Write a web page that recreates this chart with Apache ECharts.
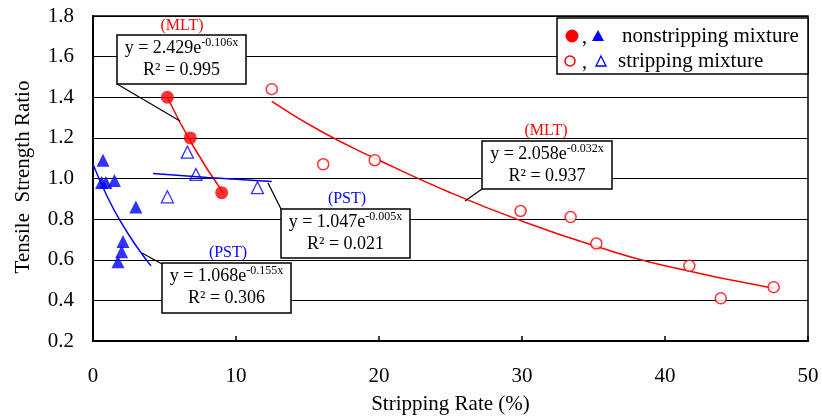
<!DOCTYPE html>
<html>
<head>
<meta charset="utf-8">
<script src="https://cdn.jsdelivr.net/npm/echarts@6/dist/echarts.min.js"></script>
<style>
  html, body { margin: 0; padding: 0; background: #fff; }
  #chart { width: 822px; height: 420px; }
</style>
</head>
<body>
<div id="chart"></div>
<script>
// 测点数据 (x = stripping rate %, y = tensile strength ratio)
var mltNonStrip = [[5.2, 1.40], [6.8, 1.20], [9.0, 0.93]];
var pstNonStrip = [[0.7, 1.09], [0.6, 0.98], [0.9, 0.98], [1.5, 0.99], [3.0, 0.86], [2.1, 0.69], [2.0, 0.64], [1.75, 0.59]];
var mltStrip = [[12.5, 1.44], [16.1, 1.07], [19.7, 1.09], [29.9, 0.84], [33.4, 0.81], [35.2, 0.68], [41.7, 0.57], [43.9, 0.41], [47.6, 0.465]];
var pstStrip = [[6.6, 1.13], [7.2, 1.02], [5.2, 0.91], [11.5, 0.955]];

// 趋势线
var mltNonStripTrend = [[5.2, 1.40], [7.0, 1.16], [9.1, 0.93]];
var pstNonStripTrend = [[0, 1.07], [1, 0.91], [2, 0.78], [3, 0.67], [4.05, 0.57]];
var mltStripTrend = [[12.5, 1.38], [16, 1.23], [20, 1.09], [25, 0.93], [30, 0.79], [35, 0.67], [40, 0.57], [47.6, 0.46]];
var pstStripTrend = [[4.2, 1.025], [8, 1.005], [12.5, 0.985]];

var xTicks = [0, 10, 20, 30, 40, 50];
var yTicks = [0.2, 0.4, 0.6, 0.8, 1.0, 1.2, 1.4, 1.6, 1.8];

var FONT = '"Liberation Serif", "Times New Roman", serif';
var RED = '#ff0000', BLUE = '#0000ff';

var chart = echarts.init(document.getElementById('chart'));

function eqBox (x, y, w, h, coef, expo, r2) {
  return [
    { type: 'rect', shape: { x: x, y: y, width: w, height: h }, style: { fill: '#fff', stroke: '#000', lineWidth: 1.5 }, z: 10 },
    {
      type: 'text', x: x + w / 2, y: y + 2, z: 11,
      style: {
        text: '{a|y = ' + coef + 'e}{s|' + expo + '}\n{a|R² = ' + r2 + '}',
        align: 'center', verticalAlign: 'top',
        rich: {
          a: { fontFamily: FONT, fontSize: 18, lineHeight: 22, fill: '#000' },
          s: { fontFamily: FONT, fontSize: 12, lineHeight: 15, verticalAlign: 'top', fill: '#000' }
        }
      }
    }
  ];
}
function tag (x, y, txt, color) {
  return { type: 'text', x: x, y: y, z: 11, style: { text: txt, fontFamily: FONT, fontSize: 16, fill: color, align: 'center', verticalAlign: 'middle' } };
}
function leader (x1, y1, x2, y2) {
  return { type: 'line', shape: { x1: x1, y1: y1, x2: x2, y2: y2 }, style: { stroke: '#000', lineWidth: 1.2 }, z: 9 };
}

var graphics = [].concat(
  eqBox(117, 35, 129, 49, '2.429', '-0.106x', '0.995'),
  eqBox(281, 209, 129, 49, '1.047', '-0.005x', '0.021'),
  eqBox(162, 263, 129, 50, '1.068', '-0.155x', '0.306'),
  eqBox(482, 141, 130, 48, '2.058', '-0.032x', '0.937'),
  [
    leader(117, 84, 180, 121),
    leader(268, 183, 281, 209),
    leader(142, 253, 162, 264),
    leader(482, 189, 465, 201),
    tag(182, 26, '(MLT)', RED),
    tag(347, 199, '(PST)', BLUE),
    tag(228, 253, '(PST)', BLUE),
    tag(546, 131, '(MLT)', RED),
    // 图例
    { type: 'rect', shape: { x: 557, y: 18, width: 251, height: 56 }, style: { fill: '#fff', stroke: '#000', lineWidth: 1.5 }, z: 10 },
    { type: 'circle', shape: { cx: 572, cy: 36, r: 6.5 }, style: { fill: RED }, z: 11 },
    { type: 'text', x: 582, y: 38, z: 11, style: { text: ',', fontFamily: FONT, fontSize: 20, fill: '#000', verticalAlign: 'middle' } },
    { type: 'polygon', shape: { points: [[598, 30], [604, 41], [592, 41]] }, style: { fill: BLUE }, z: 11 },
    { type: 'text', x: 622, y: 36, z: 11, style: { text: 'nonstripping mixture', fontFamily: FONT, fontSize: 21, fill: '#000', verticalAlign: 'middle' } },
    { type: 'circle', shape: { cx: 570, cy: 61, r: 5 }, style: { fill: 'none', stroke: RED, lineWidth: 1.5 }, z: 11 },
    { type: 'text', x: 582, y: 63, z: 11, style: { text: ',', fontFamily: FONT, fontSize: 20, fill: '#000', verticalAlign: 'middle' } },
    { type: 'polygon', shape: { points: [[601, 56], [606, 66], [596, 66]] }, style: { fill: 'none', stroke: BLUE, lineWidth: 1.3 }, z: 11 },
    { type: 'text', x: 618, y: 61, z: 11, style: { text: 'stripping mixture', fontFamily: FONT, fontSize: 21, fill: '#000', verticalAlign: 'middle' } },
    // y轴标题
    { type: 'text', x: 23, y: 177, rotation: Math.PI / 2, style: { text: 'Tensile  Strength Ratio', fontFamily: FONT, fontSize: 21, fill: '#000', align: 'center', verticalAlign: 'middle' } }
  ]
);

function trend (data, color) {
  return { type: 'line', data: data, smooth: true, showSymbol: false, silent: true, lineStyle: { color: color, width: 1.5 }, z: 3 };
}

var option = {
  backgroundColor: '#fff',
  animation: false,
  grid: { left: 93, right: 14, top: 16, bottom: 77, show: true, borderColor: '#000', borderWidth: 1.5 },
  xAxis: {
    type: 'value', min: xTicks[0], max: xTicks[xTicks.length - 1], interval: 10,
    name: 'Stripping Rate (%)', nameLocation: 'middle', nameGap: 53,
    nameTextStyle: { fontFamily: FONT, fontSize: 21, color: '#000' },
    axisLine: { lineStyle: { color: '#000', width: 2 } },
    axisTick: { inside: true, length: 5, lineStyle: { color: '#000', width: 1.5 } },
    axisLabel: { fontFamily: FONT, fontSize: 21, color: '#000', margin: 25 },
    splitLine: { show: false }
  },
  yAxis: {
    type: 'value', min: yTicks[0], max: yTicks[yTicks.length - 1], interval: 0.2,
    axisLine: { show: true, lineStyle: { color: '#000', width: 2 } },
    axisTick: { show: false },
    axisLabel: { fontFamily: FONT, fontSize: 21, color: '#000', margin: 19, formatter: function (v) { return v.toFixed(1); } },
    splitLine: { lineStyle: { color: '#000', width: 1.2 } }
  },
  series: [
    trend(mltNonStripTrend, RED),
    trend(pstNonStripTrend, BLUE),
    trend(mltStripTrend, RED),
    trend(pstStripTrend, BLUE),
    { type: 'scatter', data: mltNonStrip, symbol: 'circle', symbolSize: 13, itemStyle: { color: RED }, z: 5 },
    { type: 'scatter', data: pstNonStrip, symbol: 'triangle', symbolSize: 13, itemStyle: { color: BLUE }, z: 5 },
    { type: 'scatter', data: mltStrip, symbol: 'circle', symbolSize: 11, itemStyle: { color: '#fff', borderColor: RED, borderWidth: 1.5 }, z: 5 },
    { type: 'scatter', data: pstStrip, symbol: 'triangle', symbolSize: 12, itemStyle: { color: 'rgba(255,255,255,0)', borderColor: BLUE, borderWidth: 1.3 }, z: 5 }
  ],
  graphic: graphics
};
chart.setOption(option);
</script>
</body>
</html>
